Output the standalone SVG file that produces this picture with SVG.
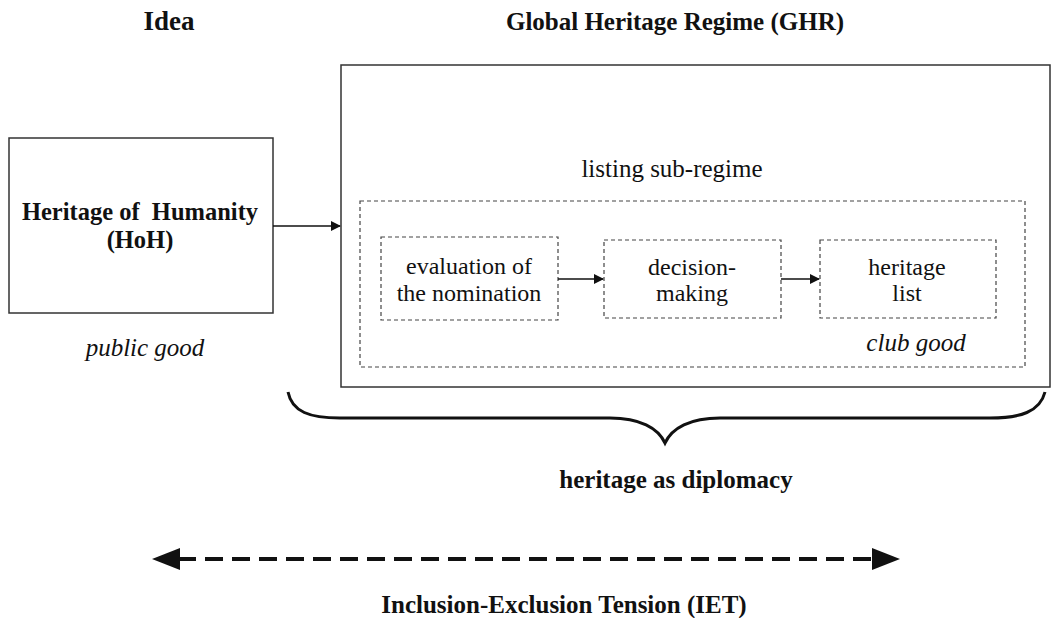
<svg xmlns="http://www.w3.org/2000/svg" width="1053" height="618" viewBox="0 0 1053 618">
<style>
text{font-family:"Liberation Serif","Times New Roman",serif;fill:#111;text-anchor:middle}
.b{font-weight:bold}
.i{font-style:italic}
.n{font-size:24px}
.solid{fill:#fff;stroke:#333;stroke-width:1.5}
.dash{fill:none;stroke:#444;stroke-width:1.2;stroke-dasharray:4 3}
.conn{stroke:#111;stroke-width:1.5;fill:none}
</style>
<defs>
<marker id="ah" markerWidth="10" markerHeight="10" refX="9" refY="5" orient="auto" markerUnits="userSpaceOnUse">
<path d="M0,0 L10,5 L0,10 Z" fill="#111"/>
</marker>
</defs>
<rect width="1053" height="618" fill="#fff"/>
<text class="b" x="169" y="30" font-size="27">Idea</text>
<text class="b" x="675" y="30" font-size="25">Global Heritage Regime (GHR)</text>
<g id="ghr">
<rect class="solid" x="341" y="65" width="709" height="322"/>
<text x="672" y="177" font-size="25">listing sub-regime</text>
</g>
<g id="hoh">
<rect class="solid" x="9" y="138" width="264" height="175"/>
<text class="b" x="140" y="220" font-size="24.5">Heritage of&#160; Humanity</text>
<text class="b" x="140" y="248" font-size="24.5">(HoH)</text>
<text class="i" x="145" y="356" font-size="25">public good</text>
</g>
<g id="listing">
<rect class="dash" x="360" y="201" width="665" height="166"/>
<text class="i" x="916" y="351" font-size="25">club good</text>
</g>
<g id="evaluation">
<rect class="dash" x="381" y="237" width="177" height="83"/>
<text class="n" x="469" y="274">evaluation of</text>
<text class="n" x="469" y="301">the nomination</text>
</g>
<g id="decision">
<rect class="dash" x="604" y="240" width="177" height="78"/>
<text class="n" x="692" y="275">decision-</text>
<text class="n" x="692" y="301">making</text>
</g>
<g id="list">
<rect class="dash" x="820" y="240" width="176" height="78"/>
<text class="n" x="907" y="275">heritage</text>
<text class="n" x="907" y="301">list</text>
</g>
<g id="connectors">
<line class="conn" x1="273" y1="226" x2="340" y2="226" marker-end="url(#ah)"/>
<line class="conn" x1="558" y1="279" x2="603" y2="279" marker-end="url(#ah)"/>
<line class="conn" x1="781" y1="279" x2="819" y2="279" marker-end="url(#ah)"/>
<path d="M288,392 C292,412 310,418 340,418 L610,418 C640,418 658,428 665,443 C672,428 690,418 720,418 L990,418 C1020,418 1040,412 1045,392" fill="none" stroke="#111" stroke-width="3"/>
<line x1="178" y1="559" x2="872" y2="559" stroke="#111" stroke-width="4" stroke-dasharray="18 9"/>
<path d="M152,559 L180,548 L180,570 Z" fill="#111"/>
<path d="M900,559 L872,548 L872,570 Z" fill="#111"/>
</g>
<text class="b" x="676" y="488" font-size="25">heritage as diplomacy</text>
<text class="b" x="564" y="613" font-size="25">Inclusion-Exclusion Tension (IET)</text>
</svg>
